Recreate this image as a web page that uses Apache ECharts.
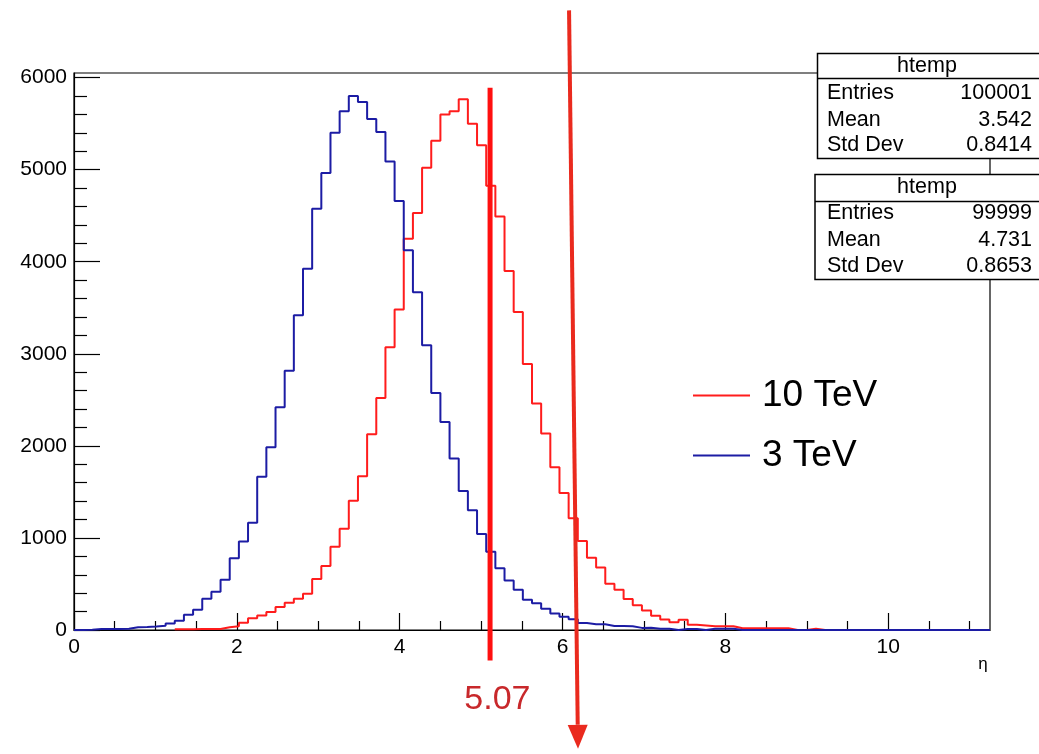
<!DOCTYPE html>
<html><head><meta charset="utf-8">
<script src="https://cdn.jsdelivr.net/npm/echarts@6/dist/echarts.min.js"></script>
<style>html,body{margin:0;padding:0;background:#fff}#c{width:1039px;height:754px}</style>
</head><body><div id="c"></div>
<script>
// ---------------- data ----------------
const binLow = 0;
const binWidth = 0.1125;
const xMax = 11.25;
const yMax = 6050;
const blueName = '3 TeV';
const redName = '10 TeV';
// 100 bins, eta from 0 to 11.25
const blueCounts = [
  0, 3, 10, 12, 12, 14, 30, 33, 38, 45,
  70, 100, 165, 220, 340, 415, 545, 780, 960, 1165,
  1665, 1985, 2420, 2815, 3420, 3925, 4575, 4965, 5400, 5635,
  5800, 5735, 5550, 5410, 5090, 4660, 4125, 3668, 3093, 2575,
  2258, 1862, 1511, 1300, 1043, 850, 672, 538, 437, 328,
  290, 230, 180, 143, 117, 75, 62, 62, 43, 43,
  40, 23, 25, 14, 14, 0, 12, 12, 0, 14,
  14, 14, 0, 0, 0, 0, 0, 0, 0, 0,
  0, 0, 0, 0, 0, 0, 0, 0, 0, 0,
  0, 0, 0, 0, 0, 0, 0, 0, 0, 0
];
const redCounts = [
  null, null, null, null, null, null, null, null, null, null,
  null, 8, 8, 10, 10, 12, 30, 40, 80, 128,
  157, 195, 250, 295, 340, 395, 555, 695, 905, 1100,
  1405, 1670, 2125, 2520, 3070, 3480, 4250, 4530, 5020, 5315,
  5600, 5635, 5765, 5500, 5265, 4825, 4490, 3900, 3455, 2890,
  2460, 2134, 1768, 1487, 1215, 968, 784, 680, 503, 437,
  338, 268, 212, 156, 115, 85, 112, 58, 50, 42,
  42, 40, 20, 20, 20, 20, 20, 20, 0, 0,
  15, 0, 0, 0, 0, 0, 0, 0, 0, 0,
  0, 0, 0, 0, 0, 0, 0, 0, 0, 0
];
const xMajorTicks = [0, 2, 4, 6, 8, 10];
const xMinorTicks = [0.5, 1, 1.5, 2.5, 3, 3.5, 4.5, 5, 5.5, 6.5, 7, 7.5, 8.5, 9, 9.5, 10.5, 11];
const yMajorTicks = [0, 1000, 2000, 3000, 4000, 5000, 6000];
const yMinorTicks = [200, 400, 600, 800, 1200, 1400, 1600, 1800, 2200, 2400, 2600, 2800,
  3200, 3400, 3600, 3800, 4200, 4400, 4600, 4800, 5200, 5400, 5600, 5800];
const xAxisTitle = 'η';
const statRowNames = ['Entries', 'Mean', 'Std Dev'];
const statsBlue = ['htemp', '100001', '3.542', '0.8414'];
const statsRed = ['htemp', '99999', '4.731', '0.8653'];
const cutLabel = '5.07';
const cutLine = [5.11, 5890, 5.11, -330];      // x, yTop, x, yBottom (data units)
const cutLabelPos = [5.2, -760];
const arrowLine = [6.08, 6730, 6.19, -1290];   // start, tip (data units)

// ---------------- chart ----------------
const FONT = '"Liberation Sans", Arial, Helvetica, sans-serif';
const RED = '#ff1c1c', BLUE = '#1c1ca4';
function histPoints(counts) {
  const pts = counts.map((v, i) => [binLow + i * binWidth, v]);
  pts.push([binLow + counts.length * binWidth, counts[counts.length - 1]]);
  return pts;
}
const chart = echarts.init(document.getElementById('c'), null, {renderer: 'canvas'});
const tickStyle = {color: '#000', width: 1.2};
const option = {
  animation: false,
  backgroundColor: '#fff',
  grid: {left: 74, right: 49, top: 73, bottom: 124, show: true, borderColor: '#000', borderWidth: 1.2, backgroundColor: 'transparent'},
  legend: {
    data: [{name: redName, icon: 'rect'}, {name: blueName, icon: 'rect'}],
    orient: 'vertical', left: 688, top: 372,
    itemWidth: 57, itemHeight: 2, itemGap: 23,
    textStyle: {fontSize: 37, fontFamily: FONT, color: '#000', padding: [0, 0, 0, 7]}
  },
  xAxis: [
    {type: 'value', min: 0, max: xMax, position: 'bottom',
     axisLine: {show: true, onZero: false, lineStyle: tickStyle},
     axisTick: {show: true, inside: true, length: 17, customValues: xMajorTicks, lineStyle: tickStyle},
     axisLabel: {customValues: xMajorTicks, fontSize: 21, color: '#000', fontFamily: FONT, margin: 7, formatter: v => String(v)},
     splitLine: {show: false}},
    {type: 'value', min: 0, max: xMax, position: 'bottom',
     axisLine: {show: false},
     axisTick: {show: true, inside: true, length: 9, customValues: xMinorTicks, lineStyle: tickStyle},
     axisLabel: {show: false}, splitLine: {show: false}}
  ],
  yAxis: [
    {type: 'value', min: 0, max: yMax, position: 'left',
     axisLine: {show: true, onZero: false, lineStyle: tickStyle},
     axisTick: {show: true, inside: true, length: 26, customValues: yMajorTicks, lineStyle: tickStyle},
     axisLabel: {customValues: yMajorTicks, fontSize: 21, color: '#000', fontFamily: FONT, margin: 7, formatter: v => String(v)},
     splitLine: {show: false}},
    {type: 'value', min: 0, max: yMax, position: 'left',
     axisLine: {show: false},
     axisTick: {show: true, inside: true, length: 13, customValues: yMinorTicks, lineStyle: tickStyle},
     axisLabel: {show: false}, splitLine: {show: false}}
  ],
  series: [
    {name: redName, type: 'line', step: 'end', symbol: 'none', xAxisIndex: 0, yAxisIndex: 0, z: 3,
     lineStyle: {color: RED, width: 2}, itemStyle: {color: RED}, data: histPoints(redCounts)},
    {name: blueName, type: 'line', step: 'end', symbol: 'none', xAxisIndex: 0, yAxisIndex: 0, z: 4,
     lineStyle: {color: BLUE, width: 2}, itemStyle: {color: BLUE}, data: histPoints(blueCounts)}
  ]
};
chart.setOption(option);

// ---------------- overlays ----------------
function txt(x, y, s, size, align, color, extra) {
  return Object.assign({type: 'text', x: x, y: y, z: 120, silent: true,
    style: {text: s, fontSize: size, fontFamily: FONT, fill: color || '#000',
      align: align, textAlign: align, verticalAlign: 'middle', textVerticalAlign: 'middle'}}, extra || {});
}
function statBox(left, top, bottom, sepY, titleY, rowYs, vals) {
  const els = [];
  els.push({type: 'rect', z: 110, shape: {x: left, y: top, width: 1060 - left, height: bottom - top},
    style: {fill: '#fff', stroke: '#000', lineWidth: 1.5}});
  els.push({type: 'line', z: 111, shape: {x1: left, y1: sepY, x2: 1060, y2: sepY}, style: {stroke: '#000', lineWidth: 1.5}});
  els.push(txt(927, titleY, vals[0], 21.5, 'center'));
  statRowNames.forEach((n, i) => {
    els.push(txt(827, rowYs[i], n, 21.5, 'left'));
    els.push(txt(1032, rowYs[i], vals[i + 1], 21.5, 'right'));
  });
  return els;
}
const finder = {xAxisIndex: 0, yAxisIndex: 0};
const c1 = chart.convertToPixel(finder, [cutLine[0], cutLine[1]]);
const c2 = chart.convertToPixel(finder, [cutLine[2], cutLine[3]]);
const cl = chart.convertToPixel(finder, cutLabelPos);
const a1 = chart.convertToPixel(finder, [arrowLine[0], arrowLine[1]]);
const a2 = chart.convertToPixel(finder, [arrowLine[2], arrowLine[3]]);
const dx = a2[0] - a1[0], dy = a2[1] - a1[1], len = Math.hypot(dx, dy);
const ux = dx / len, uy = dy / len, nx = -uy, ny = ux;
const headLen = 24, headHalf = 10;
const base = [a2[0] - ux * headLen, a2[1] - uy * headLen];

const graphics = []
  .concat(statBox(817.5, 53.5, 158.5, 78.5, 66, [93.5, 120.5, 145.5], statsBlue))
  .concat(statBox(815, 174.5, 279.5, 201.5, 187.5, [213.5, 240.5, 266.5], statsRed))
  .concat([
    txt(983, 664, xAxisTitle, 17, 'center'),
    {type: 'line', z: 130, silent: true, shape: {x1: c1[0], y1: c1[1], x2: c2[0], y2: c2[1]},
     style: {stroke: '#ff1010', lineWidth: 5}},
    txt(cl[0], cl[1], cutLabel, 34, 'center', '#c8282b'),
    {type: 'line', z: 130, silent: true, shape: {x1: a1[0], y1: a1[1], x2: base[0], y2: base[1]},
     style: {stroke: '#ea2a1e', lineWidth: 4}},
    {type: 'polygon', z: 130, silent: true,
     shape: {points: [[a2[0], a2[1]], [base[0] + nx * headHalf, base[1] + ny * headHalf], [base[0] - nx * headHalf, base[1] - ny * headHalf]]},
     style: {fill: '#ea2a1e'}}
  ]);
chart.setOption({graphic: graphics});
</script></body></html>
